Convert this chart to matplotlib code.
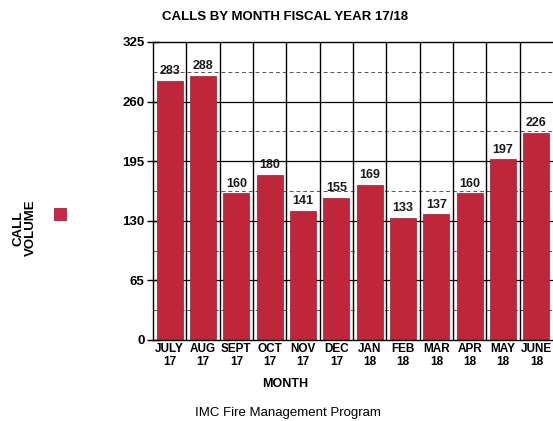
import matplotlib
matplotlib.use("Agg")
import matplotlib.pyplot as plt
from matplotlib.patches import Rectangle
import numpy as np

months = ["JULY\n17", "AUG\n17", "SEPT\n17", "OCT\n17", "NOV\n17", "DEC\n17",
          "JAN\n18", "FEB\n18", "MAR\n18", "APR\n18", "MAY\n18", "JUNE\n18"]
calls = [283, 288, 160, 180, 141, 155, 169, 133, 137, 160, 197, 226]
yticks = [0, 65, 130, 195, 260, 325]

plt.rcParams['font.family'] = ['Liberation Sans', 'DejaVu Sans']
bar_color = '#c0263a'

fig = plt.figure(figsize=(5.53, 4.21), dpi=100)
ax = fig.add_axes([153/553, 1-340/421, 400/553, (340-42)/421])

x = np.arange(len(calls))
ax.set_xlim(-0.5, len(calls)-0.5)
ax.set_ylim(0, 325)

# gridlines behind bars
for v in np.arange(32.5, 325, 32.5):
    if abs(v/65 - round(v/65)) < 1e-6:
        ax.axhline(v, color='black', lw=0.9, zorder=1)
    else:
        ax.axhline(v, color='#555555', lw=0.7, ls=(0, (4, 3)), zorder=1)
for b in np.arange(0.5, len(calls)-0.5, 1):
    ax.axvline(b, color='black', lw=1.0, zorder=1)

ax.bar(x, calls, width=0.78, color=bar_color, edgecolor='#9a1c2c', lw=0.5, zorder=2)
for xi, v in zip(x, calls):
    ax.text(xi, v + 4, str(v), ha='center', va='bottom', fontsize=9,
            fontweight='bold', color='#1a1a1a', zorder=3)

ax.set_xticks(x)
ax.set_xticklabels(months, fontsize=8.5, fontweight='bold', linespacing=1.1)
ax.set_yticks(yticks)
ax.set_yticklabels([str(t) for t in yticks], fontsize=9.5, fontweight='bold')
ax.tick_params(axis='y', direction='inout', length=8, width=1, pad=2)
ax.tick_params(axis='x', length=0, pad=2)

for s in ['left', 'top', 'bottom']:
    ax.spines[s].set_linewidth(1.0)
ax.spines['right'].set_visible(False)

fig.text(285/553, 1-17/421, "CALLS BY MONTH FISCAL YEAR 17/18", ha='center', va='center',
         fontsize=9.5, fontweight='bold')
fig.text(285/553, 1-384/421, "MONTH", ha='center', va='center', fontsize=9, fontweight='bold')
fig.text(288/553, 1-413/421, "IMC Fire Management Program", ha='center', va='center',
         fontsize=9.5)
fig.text(25/553, 1-228/421, "CALL\nVOLUME", ha='center', va='center', rotation=90,
         fontsize=9.5, fontweight='bold', linespacing=1.0)
fig.patches.append(Rectangle((54/553, 1-221/421), 13/553, 13/421, transform=fig.transFigure,
                             facecolor='#c8284a', edgecolor='none'))

fig.savefig("out.png", dpi=100)
